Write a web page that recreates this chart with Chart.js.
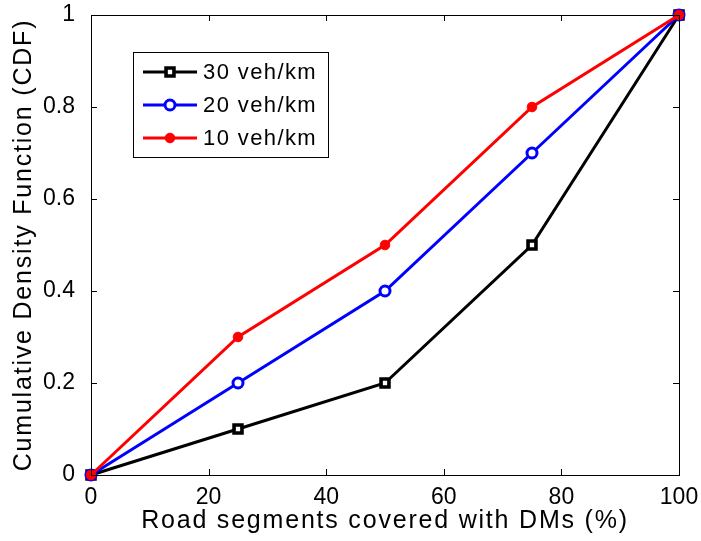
<!DOCTYPE html>
<html>
<head>
<meta charset="utf-8">
<script src="https://cdn.jsdelivr.net/npm/chart.js@4/dist/chart.umd.min.js"></script>
<style>
  html, body { margin: 0; padding: 0; background: #fff; }
  #wrap { width: 701px; height: 541px; }
</style>
</head>
<body>
<div id="wrap"><canvas id="cdf"></canvas></div>
<script>
// data
const coverage = [0, 25, 50, 75, 100];
const cdf30 = [0, 0.1, 0.2, 0.5, 1];
const cdf20 = [0, 0.2, 0.4, 0.7, 1];
const cdf10 = [0, 0.3, 0.5, 0.8, 1];
const seriesLabels = ["30 veh/km", "20 veh/km", "10 veh/km"];
const xTicks = [0, 20, 40, 60, 80, 100];
const yTicks = [0, 0.2, 0.4, 0.6, 0.8, 1];
const xTitle = "Road segments covered with DMs (%)";
const yTitle = "Cumulative Density Function (CDF)";

const FONT = "'Liberation Sans', Arial, Helvetica, sans-serif";

function pts(vals) {
  return coverage.map((x, i) => ({ x: x, y: vals[i] }));
}

const styles = [
  { color: "#000000", marker: "rect", radius: 5.6, fill: "#ffffff", border: 3.6 },
  { color: "#0000ff", marker: "circle", radius: 5, fill: "#ffffff", border: 3 },
  { color: "#ff0000", marker: "circle", radius: 4.8, fill: "#ff0000", border: 1 }
];

// text with a bit of extra tracking, the MATLAB font runs wider
function wideText(ctx, txt, x, y, size, spacing) {
  ctx.font = size + "px " + FONT;
  if ("letterSpacing" in ctx) ctx.letterSpacing = spacing + "px";
  ctx.fillText(txt, x, y);
  if ("letterSpacing" in ctx) ctx.letterSpacing = "0px";
}

// Box, inward ticks, titles and legend like a MATLAB figure
const matlabFrame = {
  id: "matlabFrame",
  afterDatasetsDraw(chart) {
    const ctx = chart.ctx;
    const a = chart.chartArea;
    const xs = chart.scales.x, ys = chart.scales.y;
    ctx.save();
    ctx.strokeStyle = "#000";
    ctx.lineWidth = 1;
    ctx.strokeRect(Math.round(a.left) + 0.5, Math.round(a.top) + 0.5,
      Math.round(a.right - a.left), Math.round(a.bottom - a.top));
    const tl = 6;
    ctx.beginPath();
    xTicks.forEach(v => {
      const px = Math.round(xs.getPixelForValue(v)) + 0.5;
      ctx.moveTo(px, a.bottom); ctx.lineTo(px, a.bottom - tl);
      ctx.moveTo(px, a.top); ctx.lineTo(px, a.top + tl);
    });
    yTicks.forEach(v => {
      const py = Math.round(ys.getPixelForValue(v)) + 0.5;
      ctx.moveTo(a.left, py); ctx.lineTo(a.left + tl, py);
      ctx.moveTo(a.right, py); ctx.lineTo(a.right - tl, py);
    });
    ctx.stroke();

    // axis titles
    ctx.fillStyle = "#000";
    ctx.textAlign = "center";
    ctx.textBaseline = "middle";
    wideText(ctx, xTitle, 385, 521, 25, 1.8);
    ctx.save();
    ctx.translate(24, 245);
    ctx.rotate(-Math.PI / 2);
    wideText(ctx, yTitle, 0, 0, 25, 1.8);
    ctx.restore();

    // legend
    const lx = 133, ly = 52, lw = 195, lh = 105;
    ctx.fillStyle = "#fff";
    ctx.fillRect(lx, ly, lw, lh);
    ctx.strokeRect(lx + 0.5, ly + 0.5, lw, lh);
    ctx.textAlign = "left";
    seriesLabels.forEach((lab, i) => {
      const y = ly + 20 + i * 33;
      const s = styles[i];
      ctx.strokeStyle = s.color;
      ctx.lineWidth = 3;
      ctx.beginPath();
      ctx.moveTo(143, y); ctx.lineTo(197, y);
      ctx.stroke();
      ctx.lineWidth = s.border;
      ctx.fillStyle = s.fill;
      ctx.beginPath();
      if (s.marker === "rect") {
        const h = s.radius * Math.SQRT1_2;
        ctx.rect(170 - h, y - h, h * 2, h * 2);
      } else {
        ctx.arc(170, y, s.radius, 0, Math.PI * 2);
      }
      ctx.fill();
      ctx.stroke();
      ctx.fillStyle = "#000";
      wideText(ctx, lab, 203, y + 1, 22, 1.4);
    });
    ctx.restore();
  }
};

const datasets = [cdf30, cdf20, cdf10].map((vals, i) => ({
  label: seriesLabels[i],
  data: pts(vals),
  borderColor: styles[i].color,
  borderWidth: 3,
  pointStyle: styles[i].marker,
  pointRadius: styles[i].radius,
  pointBackgroundColor: styles[i].fill,
  pointBorderColor: styles[i].color,
  pointBorderWidth: styles[i].border,
  tension: 0,
  clip: false,
  order: 2 - i
}));

new Chart(document.getElementById("cdf"), {
  type: "line",
  data: { datasets: datasets },
  plugins: [matlabFrame],
  options: {
    responsive: true,
    maintainAspectRatio: false,
    animation: false,
    layout: { padding: { top: 15, right: 22, left: 0, bottom: 0 } },
    plugins: { legend: { display: false }, tooltip: { enabled: false } },
    scales: {
      x: {
        type: "linear",
        min: 0, max: 100,
        afterBuildTicks: s => { s.ticks = xTicks.map(v => ({ value: v })); },
        afterFit: s => { s.height = 66; s.paddingLeft = 0; s.paddingRight = 0; },
        grid: { display: false },
        border: { display: false },
        ticks: { color: "#000", font: { size: 23, family: FONT }, padding: 1, maxRotation: 0 },
        title: { display: false }
      },
      y: {
        type: "linear",
        min: 0, max: 1,
        afterBuildTicks: s => { s.ticks = yTicks.map(v => ({ value: v })); },
        afterFit: s => { s.width = 91; s.paddingTop = 0; s.paddingBottom = 0; },
        grid: { display: false },
        border: { display: false },
        ticks: {
          color: "#000",
          font: { size: 23, family: FONT },
          padding: 8,
          callback: v => String(Math.round(v * 10) / 10)
        },
        title: { display: false }
      }
    }
  }
});
</script>
</body>
</html>
